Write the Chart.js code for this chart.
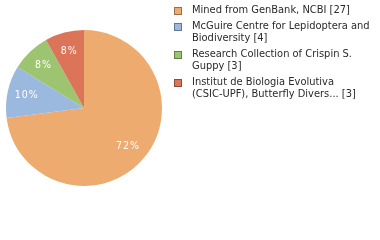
<!DOCTYPE html>
<html><head><meta charset="utf-8">
<script src="https://cdn.jsdelivr.net/npm/chart.js@4/dist/chart.umd.min.js"></script>
<style>html,body{margin:0;padding:0;background:#fff}#wrap{width:380px;height:240px;position:relative}</style>
</head><body><div id="wrap"><canvas id="c" width="380" height="240"></canvas></div>
<script>
const categories = [
  ["Mined from GenBank, NCBI [27]"],
  ["McGuire Centre for Lepidoptera and", "Biodiversity [4]"],
  ["Research Collection of Crispin S.", "Guppy [3]"],
  ["Institut de Biologia Evolutiva", "(CSIC-UPF), Butterfly Divers... [3]"]
];
const counts = [27, 4, 3, 3];
const pctLabels = ["72%", "10%", "8%", "8%"];
const colors = ["#EEAB6F", "#9BB9DF", "#9DC571", "#DB7458"];
const borderColors = ["#9a7048", "#657891", "#667f4a", "#8e4b39"];
const FONT = "'DejaVu Sans Condensed', 'DejaVu Sans', sans-serif";

const pctPlugin = {
  id: 'pct',
  afterDatasetsDraw(chart) {
    const ctx = chart.ctx;
    const meta = chart.getDatasetMeta(0);
    ctx.save();
    ctx.fillStyle = '#fff';
    ctx.font = '10.5px ' + FONT;
    try { ctx.letterSpacing = '1px'; } catch (e) {}
    ctx.textAlign = 'center';
    ctx.textBaseline = 'middle';
    meta.data.forEach((arc, i) => {
      const p = arc.getProps(['x', 'y', 'startAngle', 'endAngle', 'outerRadius'], true);
      const a = (p.startAngle + p.endAngle) / 2;
      const r = p.outerRadius * 0.75;
      ctx.fillText(pctLabels[i], p.x + Math.cos(a) * r, p.y + Math.sin(a) * r);
    });
    ctx.restore();
  }
};

const legendPlugin = {
  id: 'customLegend',
  afterDraw(chart) {
    const ctx = chart.ctx;
    ctx.save();
    ctx.font = '11px ' + FONT;
    ctx.textBaseline = 'alphabetic';
    ctx.textAlign = 'left';
    let y = 13;
    categories.forEach((lines, i) => {
      ctx.fillStyle = colors[i];
      ctx.fillRect(174.5, y - 5.5, 7, 7);
      ctx.strokeStyle = borderColors[i];
      ctx.lineWidth = 1;
      ctx.strokeRect(174.5, y - 5.5, 7, 7);
      ctx.fillStyle = '#2a2a2a';
      lines.forEach((t, k) => {
        ctx.fillText(t, 192, y + k * 12);
      });
      y += lines.length * 12 + 4;
    });
    ctx.restore();
  }
};

new Chart(document.getElementById('c'), {
  type: 'pie',
  data: {
    labels: categories.map(l => l.join(' ')),
    datasets: [{ data: counts, backgroundColor: colors, borderWidth: 0 }]
  },
  options: {
    responsive: false,
    animation: false,
    layout: { padding: { left: 6, top: 30, bottom: 54, right: 218 } },
    plugins: { legend: { display: false }, tooltip: { enabled: false } }
  },
  plugins: [pctPlugin, legendPlugin]
});
</script></body></html>
